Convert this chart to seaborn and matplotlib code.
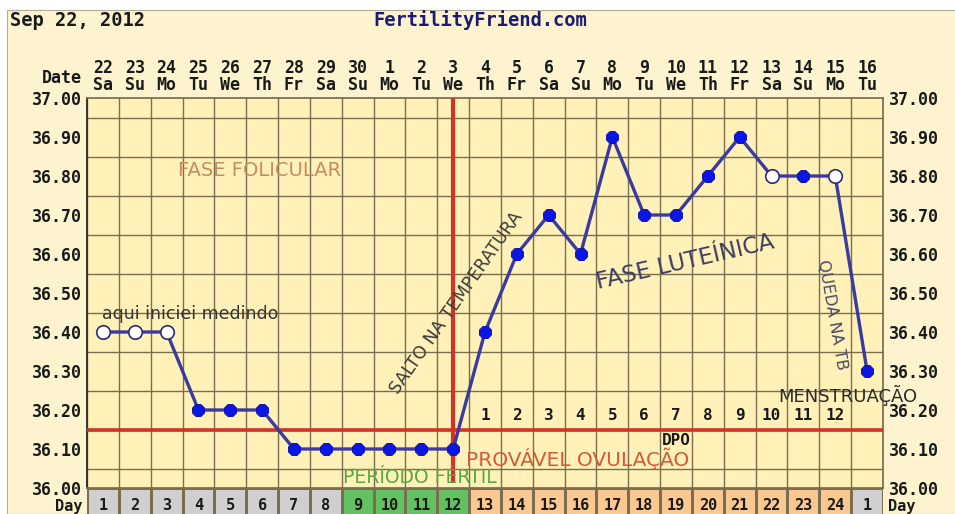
import numpy as np
import pandas as pd
import matplotlib.pyplot as plt
import seaborn as sns
from matplotlib.colors import ListedColormap
from matplotlib.patches import Rectangle

# dados do gráfico
dates = ['22', '23', '24', '25', '26', '27', '28', '29', '30', '1', '2', '3', '4',
         '5', '6', '7', '8', '9', '10', '11', '12', '13', '14', '15', '16']
weekdays = ['Sa', 'Su', 'Mo', 'Tu', 'We', 'Th', 'Fr', 'Sa', 'Su', 'Mo', 'Tu', 'We', 'Th',
            'Fr', 'Sa', 'Su', 'Mo', 'Tu', 'We', 'Th', 'Fr', 'Sa', 'Su', 'Mo', 'Tu']
cycle_days = [1, 2, 3, 4, 5, 6, 7, 8, 9, 10, 11, 12, 13, 14, 15, 16, 17, 18, 19, 20,
              21, 22, 23, 24, 1]
temps = [36.40, 36.40, 36.40, 36.20, 36.20, 36.20, 36.10, 36.10, 36.10, 36.10, 36.10,
         36.10, 36.40, 36.60, 36.70, 36.60, 36.90, 36.70, 36.70, 36.80, 36.90, 36.80,
         36.80, 36.80, 36.30]
open_marks = [True, True, True, False, False, False, False, False, False, False, False,
              False, False, False, False, False, False, False, False, False, False, True,
              False, True, False]
phases = ['low'] * 8 + ['fertile'] * 4 + ['luteal'] * 12 + ['low']
dpo = ['', '', '', '', '', '', '', '', '', '', '', '', '1', '2', '3', '4', '5', '6',
       '7', '8', '9', '10', '11', '12', '']
coverline = 36.15
ovulation_idx = 11

CREAM = '#fdf4cf'
PAPER = '#fff1b8'
GRID = '#7a6e4e'
RED = '#d23228'
BLUE = '#0a16e6'
LINE = '#3a3aa0'
MONO = 'DejaVu Sans Mono'
INK = '#1a1a1a'

sns.set_theme(style="white")
plt.rcParams['font.family'] = ['DejaVu Sans']

fig = plt.figure(figsize=(9.55, 5.14), dpi=100)
fig.patch.set_facecolor('white')
fig.add_artist(Rectangle((7 / 955, 0), 1, 1 - 10 / 514, transform=fig.transFigure,
                         facecolor=CREAM, edgecolor='#b0aa98', lw=0.8, zorder=-10))

# --- área principal ---
ax = fig.add_axes([87 / 955, 1 - 488 / 514, 796 / 955, 390 / 514])
ax.set_facecolor(PAPER)

df = pd.DataFrame({'x': range(len(temps)), 'temp': temps, 'open': open_marks})

sns.lineplot(data=df, x='x', y='temp', ax=ax, color=LINE, lw=2.4, zorder=4)
sns.scatterplot(data=df[~df['open']], x='x', y='temp', ax=ax, color=BLUE, s=85,
                marker='8', edgecolor='#1212b0', linewidth=0.8, zorder=6)
sns.scatterplot(data=df[df['open']], x='x', y='temp', ax=ax, color='white', s=95,
                edgecolor='#2a2a80', linewidth=1.2, zorder=6)

ax.set_xlim(-0.5, len(temps) - 0.5)
ax.set_ylim(36.0, 37.0)
ax.set_xticks(np.arange(-0.5, len(temps), 1), minor=True)
ax.set_yticks(np.arange(36.0, 37.001, 0.05), minor=True)
ax.grid(which='minor', color=GRID, lw=1)
ax.grid(which='major', visible=False)

ax.set_xticks(range(len(temps)))
ax.set_xticklabels([f"{d}\n{w}" for d, w in zip(dates, weekdays)], linespacing=0.95)
yt = np.arange(36.0, 37.001, 0.1)
ax.set_yticks(yt)
ax.set_yticklabels([f"{v:.2f}" for v in yt])
ax.tick_params(axis='x', which='both', length=0, labeltop=True, labelbottom=False, pad=3)
ax.tick_params(axis='y', which='both', length=0, labelright=True, pad=4)
for lab in ax.get_xticklabels() + ax.get_yticklabels():
    lab.set_fontfamily(MONO)
    lab.set_fontweight('bold')
    lab.set_fontsize(12)
    lab.set_color(INK)
for lab in ax.get_yticklabels():
    lab.set_va('center_baseline')
ax.set_xlabel('')
ax.set_ylabel('')
for s in ax.spines.values():
    s.set_color(GRID)
ax.spines['left'].set_color('#2a2a2a')
ax.spines['left'].set_linewidth(1.3)

# linha de cobertura e ovulação
ax.axhline(coverline, color=RED, lw=2.6, zorder=3)
ax.vlines(ovulation_idx, 36.015, 37.0, color=RED, lw=3, zorder=3)

# DPO
for i, t in enumerate(dpo):
    if t:
        ax.text(i, 36.185, t, ha='center', va='center', fontsize=11.5,
                fontfamily=MONO, fontweight='bold', color=INK, zorder=5)
ax.text(18, 36.123, 'DPO', ha='center', va='center', fontsize=11.5,
        fontfamily=MONO, fontweight='bold', color=INK, zorder=5)

# anotações
ax.text(4.93, 36.815, 'FASE FOLICULAR', ha='center', va='center', fontsize=14,
        color='#c98a5c', zorder=5)
ax.text(2.73, 36.445, 'aqui iniciei medindo', ha='center', va='center', fontsize=12.5,
        color='#333333', zorder=5)
ax.text(11.1, 36.475, 'SALTO NA TEMPERATURA', ha='center', va='center', fontsize=12.5,
        rotation=55, rotation_mode='anchor', color='#3a3a3a', zorder=5)
ax.text(18.3, 36.58, 'FASE LUTEÍNICA', ha='center', va='center', fontsize=16.5,
        rotation=13, rotation_mode='anchor', color='#3d3d62', zorder=5)
ax.text(22.9, 36.445, 'QUEDA NA TB', ha='center', va='center', fontsize=11.5,
        rotation=-80, rotation_mode='anchor', color='#4a4a6a', zorder=5)
ax.text(23.4, 36.238, 'MENSTRUAÇÃO', ha='center', va='center', fontsize=13,
        color='#2a2a2a', zorder=7, clip_on=False)
ax.text(9.96, 36.026, 'PERÍODO FÉRTIL', ha='center', va='center', fontsize=13.5,
        color='#5aa845', zorder=5)
ax.text(14.92, 36.074, 'PROVÁVEL OVULAÇÃO', ha='center', va='center', fontsize=14.5,
        color='#d35a3c', zorder=5)

# --- linha dos dias do ciclo ---
axd = fig.add_axes([87 / 955, 1 - 522 / 514, 796 / 955, 34 / 514])
phase_order = ['low', 'fertile', 'luteal']
codes = np.array([[phase_order.index(p) for p in phases]])
sns.heatmap(codes, ax=axd, cmap=ListedColormap(['#cfcfcf', '#62c262', '#fbc892']),
            vmin=-0.5, vmax=2.5, cbar=False, annot=np.array([cycle_days]), fmt='d',
            annot_kws=dict(fontsize=11, fontfamily=MONO, fontweight='bold', color=INK),
            linewidths=1, linecolor=GRID, xticklabels=False, yticklabels=False)

# cabeçalho
fig.text(10 / 955, 1 - 20 / 514, 'Sep 22, 2012', fontsize=13.5, fontfamily=MONO,
         fontweight='bold', color=INK, va='center')
fig.text(480 / 955, 1 - 20 / 514, 'FertilityFriend.com', fontsize=13.5, fontfamily=MONO,
         fontweight='bold', color='#1c1c6e', va='center', ha='center')
fig.text(82 / 955, 1 - 78 / 514, 'Date', fontsize=12, fontfamily=MONO,
         fontweight='bold', color=INK, va='center', ha='right')
fig.text(82 / 955, 1 - 506 / 514, 'Day', fontsize=11, fontfamily=MONO,
         fontweight='bold', color=INK, va='center', ha='right')
fig.text(888 / 955, 1 - 506 / 514, 'Day', fontsize=11, fontfamily=MONO,
         fontweight='bold', color=INK, va='center', ha='left')

fig.savefig('out.png', dpi=100, facecolor=fig.get_facecolor())
